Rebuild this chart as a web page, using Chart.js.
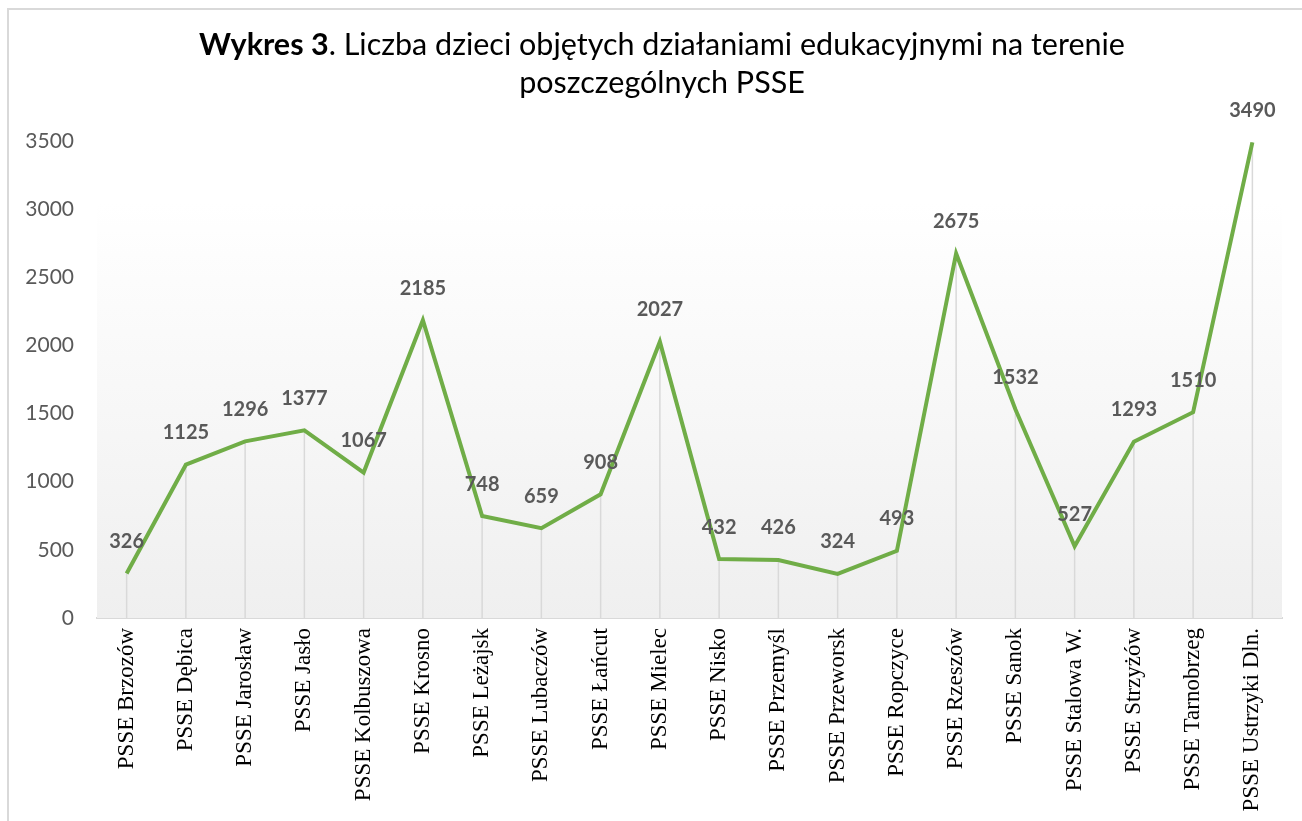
<!DOCTYPE html>
<html>
<head>
<meta charset="utf-8">
<script src="https://cdn.jsdelivr.net/npm/chart.js@4"></script>
<style>
  body { margin: 0; background: #fff; }
  #wrap { position: relative; width: 1302px; height: 821px; }
  #frame { position: absolute; left: 7px; top: 8px; right: 0; bottom: 0; border-left: 2px solid #d9d9d9; border-top: 2px solid #d9d9d9; pointer-events: none; }
</style>
</head>
<body>
<div id="wrap">
  <canvas id="myChart" width="1302" height="821"></canvas>
  <div id="frame"></div>
</div>
<script>
// DATA
const categories = ["PSSE Brzozów", "PSSE Dębica", "PSSE Jarosław", "PSSE Jasło", "PSSE Kolbuszowa",
  "PSSE Krosno", "PSSE Leżajsk", "PSSE Lubaczów", "PSSE Łańcut", "PSSE Mielec", "PSSE Nisko",
  "PSSE Przemyśl", "PSSE Przeworsk", "PSSE Ropczyce", "PSSE Rzeszów", "PSSE Sanok",
  "PSSE Stalowa W.", "PSSE Strzyżów", "PSSE Tarnobrzeg", "PSSE Ustrzyki Dln."];
const children = [326, 1125, 1296, 1377, 1067, 2185, 748, 659, 908, 2027, 432, 426, 324, 493, 2675, 1532, 527, 1293, 1510, 3490];
const yTicks = [0, 500, 1000, 1500, 2000, 2500, 3000, 3500];
const titleBold = "Wykres 3";
const titleRest = ". Liczba dzieci objętych działaniami edukacyjnymi na terenie";
const titleLine2 = "poszczególnych PSSE";

const SANS = "Lato, 'Open Sans', sans-serif";

// title with bold + normal part, drop lines, plot gradient, value labels
const extras = {
  id: "extras",
  beforeDatasetsDraw(chart) {
    const { ctx, chartArea, scales } = chart;
    const yTop = scales.y.getPixelForValue(3050);
    const g = ctx.createLinearGradient(0, yTop, 0, chartArea.bottom);
    g.addColorStop(0, "#ffffff");
    g.addColorStop(1, "#efefef");
    ctx.save();
    ctx.fillStyle = g;
    ctx.fillRect(chartArea.left, yTop, chartArea.right - chartArea.left, chartArea.bottom - yTop);
    // drop lines
    ctx.strokeStyle = "#d9d9d9";
    ctx.lineWidth = 1.5;
    chart.getDatasetMeta(0).data.forEach(p => {
      ctx.beginPath();
      ctx.moveTo(p.x, p.y);
      ctx.lineTo(p.x, chartArea.bottom);
      ctx.stroke();
    });
    ctx.restore();
  },
  afterDatasetsDraw(chart) {
    const { ctx } = chart;
    ctx.save();
    ctx.font = "bold 20px " + SANS;
    ctx.fillStyle = "#595959";
    ctx.textAlign = "center";
    ctx.textBaseline = "middle";
    chart.getDatasetMeta(0).data.forEach((p, i) => {
      ctx.fillText(String(children[i]), p.x, p.y - 32);
    });
    // title
    const cx = 662;
    ctx.textBaseline = "alphabetic";
    ctx.fillStyle = "#000";
    ctx.font = "bold 30.5px " + SANS;
    const wb = ctx.measureText(titleBold).width;
    ctx.font = "30.5px " + SANS;
    const wr = ctx.measureText(titleRest).width;
    let x = cx - (wb + wr) / 2;
    ctx.textAlign = "left";
    ctx.font = "bold 30.5px " + SANS;
    ctx.fillText(titleBold, x, 55);
    ctx.font = "30.5px " + SANS;
    ctx.fillText(titleRest, x + wb, 55);
    ctx.textAlign = "center";
    ctx.fillText(titleLine2, cx, 93);
    ctx.restore();
  }
};

const lineChart = new Chart(document.getElementById("myChart"), {
  type: "line",
  data: {
    labels: categories,
    datasets: [{
      data: children,
      borderColor: "#70ad47",
      borderWidth: 4,
      pointRadius: 0,
      tension: 0
    }]
  },
  options: {
    responsive: false,
    animation: false,
    layout: { padding: { top: 141, left: 10, right: 20, bottom: 0 } },
    plugins: { legend: { display: false }, tooltip: { enabled: false } },
    scales: {
      x: {
        offset: true,
        grid: { display: false, drawTicks: false },
        border: { color: "#d9d9d9", width: 2 },
        ticks: {
          maxRotation: 90, minRotation: 90, autoSkip: false, padding: 10,
          color: "#000",
          font: { family: "'Liberation Serif', 'Times New Roman', serif", size: 23 }
        },
        afterFit(scale) { scale.height = 203; }
      },
      y: {
        min: 0, max: 3500,
        afterBuildTicks(scale) { scale.ticks = yTicks.map(v => ({ value: v })); },
        grid: { display: false, drawTicks: false },
        border: { display: false },
        ticks: {
          color: "#595959", padding: 23, font: { family: SANS, size: 21 },
          callback: v => String(v)
        },
        afterFit(scale) { scale.width = 87; }
      }
    }
  },
  plugins: [extras]
});
</script>
</body>
</html>
